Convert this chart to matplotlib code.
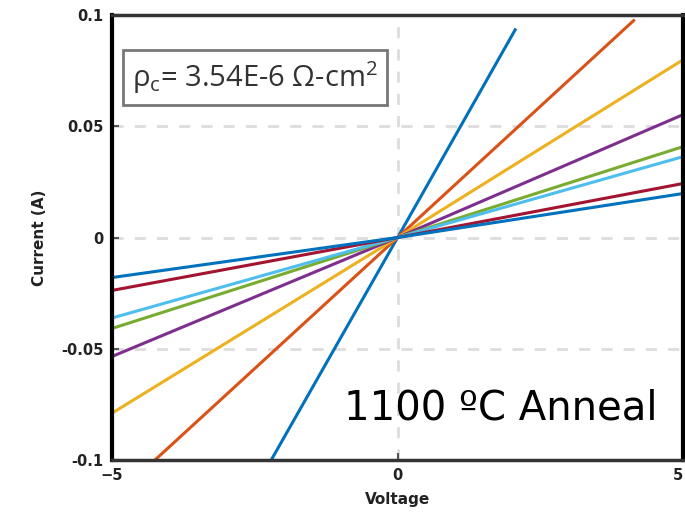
import matplotlib
matplotlib.use('Agg')
import matplotlib.pyplot as plt

# I-V sweeps, one per contact spacing
volt_steep = [-2.3, 0, 2.07]
cur_steep = [-0.104, 0, 0.094]
volt_mid = [-4.5, 0, 4.15]
cur_mid = [-0.106, 0, 0.098]
volt_full = [-5, 0, 5]
cur_yellow = [-0.079, 0, 0.080]
cur_purple = [-0.0535, 0, 0.0553]
cur_green = [-0.0409, 0, 0.0409]
cur_cyan = [-0.0362, 0, 0.0364]
cur_red = [-0.0238, 0, 0.0243]
cur_blue = [-0.018, 0, 0.0198]

colors = ['#0072BD', '#D95319', '#EDB120', '#7E2F8E', '#77AC30', '#4DBEEE', '#A2142F', '#0072BD']
xticks = [-5, 0, 5]
yticks = [-0.1, -0.05, 0, 0.05, 0.1]
ytick_labels = ['-0.1', '-0.05', '0', '0.05', '0.1']

plt.rcParams['mathtext.fontset'] = 'custom'
plt.rcParams['mathtext.rm'] = 'Open Sans'

fig = plt.figure(figsize=(6.85, 5.22), dpi=100)
ax = fig.add_axes([0.1635, 0.119, 0.834, 0.852])

series = [(volt_steep, cur_steep), (volt_mid, cur_mid), (volt_full, cur_yellow),
          (volt_full, cur_purple), (volt_full, cur_green), (volt_full, cur_cyan),
          (volt_full, cur_red), (volt_full, cur_blue)]
for (v, c), col in zip(series, colors):
	ax.plot(v, c, color=col, lw=2.2, solid_capstyle='butt')

ax.set_xlim(-5, 5)
ax.set_ylim(-0.1, 0.1)
ax.set_xticks(xticks)
ax.set_yticks(yticks)
ax.set_yticklabels(ytick_labels)
ax.grid(True, color='#dddddd', ls=(0, (4, 4)), lw=2)
ax.tick_params(direction='in', length=5, width=1.5, color='#555555', labelsize=10.5, pad=6)
for lbl in ax.get_xticklabels() + ax.get_yticklabels():
	lbl.set_fontweight('heavy')
	lbl.set_color('#222222')
ax.get_xticklabels()[-1].set_ha('right')  # keep the last label inside the canvas
for side in ['left', 'right']:
	ax.spines[side].set_linewidth(3)
for side in ['top', 'bottom']:
	ax.spines[side].set_linewidth(2.5)
	ax.spines[side].set_color('#333333')

ax.set_xlabel('Voltage', fontsize=11, fontweight='heavy', color='#222222', labelpad=6)
ax.set_ylabel('Current (A)', fontsize=11, fontweight='heavy', color='#222222', labelpad=10)

ax.text(0.035, 0.86, r'ρ$_\mathrm{c}$= 3.54E-6 Ω-cm$^\mathrm{2}$', transform=ax.transAxes,
	fontsize=21, family='Open Sans', color='#333333', va='center', ha='left',
	bbox=dict(boxstyle='square,pad=0.3', fc='white', ec='#777777', lw=2))
ax.text(0.955, 0.115, '1100 ºC Anneal', transform=ax.transAxes, fontsize=29,
	color='black', ha='right', va='center')

fig.savefig('out.png', dpi=100)
